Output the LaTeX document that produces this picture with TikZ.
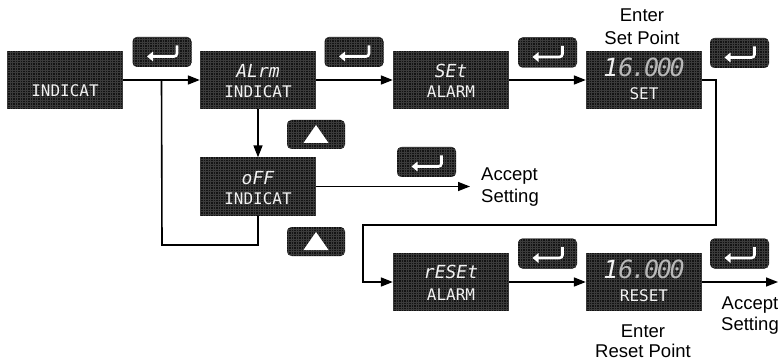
\documentclass[tikz,border=0pt]{standalone}
\usepackage{fontspec}
\setmainfont{Liberation Sans}
\newfontfamily\segfont{DejaVu Sans Mono}
\newfontfamily\segnumfont{DejaVu Sans Mono}[LetterSpace=-9]
\usetikzlibrary{arrows.meta,calc}
\definecolor{lcdbg}{HTML}{131313}
\definecolor{lcdgrid}{HTML}{3A3A3A}
\definecolor{segw}{HTML}{F2F2F2}
\definecolor{segg}{HTML}{B8B8B8}
\newcommand\entersym[1]{\draw[white, line width=2.6pt, rounded corners=3pt, -{Triangle[length=6pt,width=9.5pt]}] ($(#1)+(15,-6.5)$) -- ($(#1)+(15,4.5)$) -- ($(#1)+(-15,4.5)$);}
\newcommand\upsym[1]{\fill[white] ($(#1)+(-12.5,8.5)$) -- ($(#1)+(12.5,8.5)$) -- ($(#1)+(0,-9.5)$) -- cycle;}
\tikzset{
  lcd/.style={rectangle, fill=lcdbg, draw=none, inner sep=0pt, minimum width=116pt, minimum height=58pt,
    path picture={\draw[lcdgrid, line width=0.45pt, step=2.5pt] (path picture bounding box.south west) grid (path picture bounding box.north east);}},
  keybox/.style={lcd, rounded corners=4.5pt, minimum width=59pt, minimum height=30pt},
  upbox/.style={keybox, minimum width=58pt, minimum height=29pt},
  segtop/.style={text=segw, font=\segfont\itshape\fontsize{18}{18}\selectfont, inner sep=0pt, anchor=base},
  segbot/.style={text=segw, font=\segfont\fontsize{16}{16}\selectfont, inner sep=0pt, anchor=base},
  segnum/.style={text=segg, font=\segnumfont\itshape\fontsize{25}{25}\selectfont, inner sep=0pt, anchor=base},
  lbl/.style={font=\fontsize{18.5}{21}\selectfont, inner sep=0pt, anchor=base},
  conn/.style={line width=1.6pt, -{Triangle[length=12pt,width=9pt]}},
  plain/.style={line width=1.6pt},
}
\begin{document}
\begin{tikzpicture}[x=1pt,y=-1pt]
\useasboundingbox (0,0) rectangle (783,363);
% displays
\node[lcd] (b1) at (65,80) {};
\node[lcd] (b2) at (258,80) {};
\node[lcd] (b3) at (451,80) {};
\node[lcd] (b4) at (644,80) {};
\node[lcd] (b5) at (258,186.5) {};
\node[lcd] (b6) at (451,282) {};
\node[lcd] (b7) at (644,282) {};
% display texts
\node[segbot] (b1b) at ($(b1.north)+(0,46)$) {INDICAT};
\node[segtop] (b2a) at ($(b2.north)+(0,27)$) {ALrm};
\node[segbot] (b2b) at ($(b2.north)+(0,47)$) {INDICAT};
\node[segtop] (b3a) at ($(b3.north)+(0,27)$) {SEt};
\node[segbot] (b3b) at ($(b3.north)+(0,47)$) {ALARM};
\node[segnum] (b4a) at ($(b4.north)+(0,26)$) {{\color{segw}1}6.000};
\node[segbot] (b4b) at ($(b4.north)+(0,49)$) {SET};
\node[segtop] (b5a) at ($(b5.north)+(0,27)$) {oFF};
\node[segbot] (b5b) at ($(b5.north)+(0,47)$) {INDICAT};
\node[segtop] (b6a) at ($(b6.north)+(0,26)$) {rESEt};
\node[segbot] (b6b) at ($(b6.north)+(0,48)$) {ALARM};
\node[segnum] (b7a) at ($(b7.north)+(0,26)$) {{\color{segw}1}6.000};
\node[segbot] (b7b) at ($(b7.north)+(0,49)$) {RESET};
% keys
\node[keybox] (k1) at (162,52) {};
\node[keybox] (k2) at (354,52) {};
\node[keybox] (k3) at (547.5,52.5) {};
\node[keybox] (k4) at (739.5,53) {};
\node[keybox] (k5) at (426.5,162) {};
\node[keybox] (k6) at (547.5,253.5) {};
\node[keybox] (k7) at (739.5,253.5) {};
\node[upbox] (u1) at (316,134.5) {};
\node[upbox] (u2) at (316,241.5) {};
\entersym{k1}\entersym{k2}\entersym{k3}\entersym{k4}\entersym{k5}\entersym{k6}\entersym{k7}
\upsym{u1}\upsym{u2}
% labels
\node[lbl] (e1) at (642,22) {Enter};
\node[lbl] (e2) at (642,45) {Set Point};
\node[lbl, anchor=base west] (a1) at (481,181) {Accept};
\node[lbl, anchor=base west] (a2) at (481,203) {Setting};
\node[lbl] (a3) at (750,309) {Accept};
\node[lbl] (a4) at (750,330) {Setting};
\node[lbl] (e3) at (643,337) {Enter};
\node[lbl] (e4) at (643,357.5) {Reset Point};
% connectors
\coordinate (j) at ($(b1.east)!0.5!(b2.west)$);
\coordinate (loopc) at (162,245);
\coordinate (acc1) at (470,186.5);
\coordinate (acc2) at (778,282);
\coordinate (r1) at (716,225);
\coordinate (r2) at (363,225);
\draw[conn] (b1.east) -- (b2.west);
\draw[plain] (b5.south) |- (loopc) -- (j);
\draw[conn] (b2.south) -- (b5.north);
\draw[conn] (b5.east) -- (acc1);
\draw[conn] (b2.east) -- (b3.west);
\draw[conn] (b3.east) -- (b4.west);
\draw[conn] (b4.east) -| (r1) -- (r2) |- (b6.west);
\draw[conn] (b6.east) -- (b7.west);
\draw[conn] (b7.east) -- (acc2);
\end{tikzpicture}
\end{document}
